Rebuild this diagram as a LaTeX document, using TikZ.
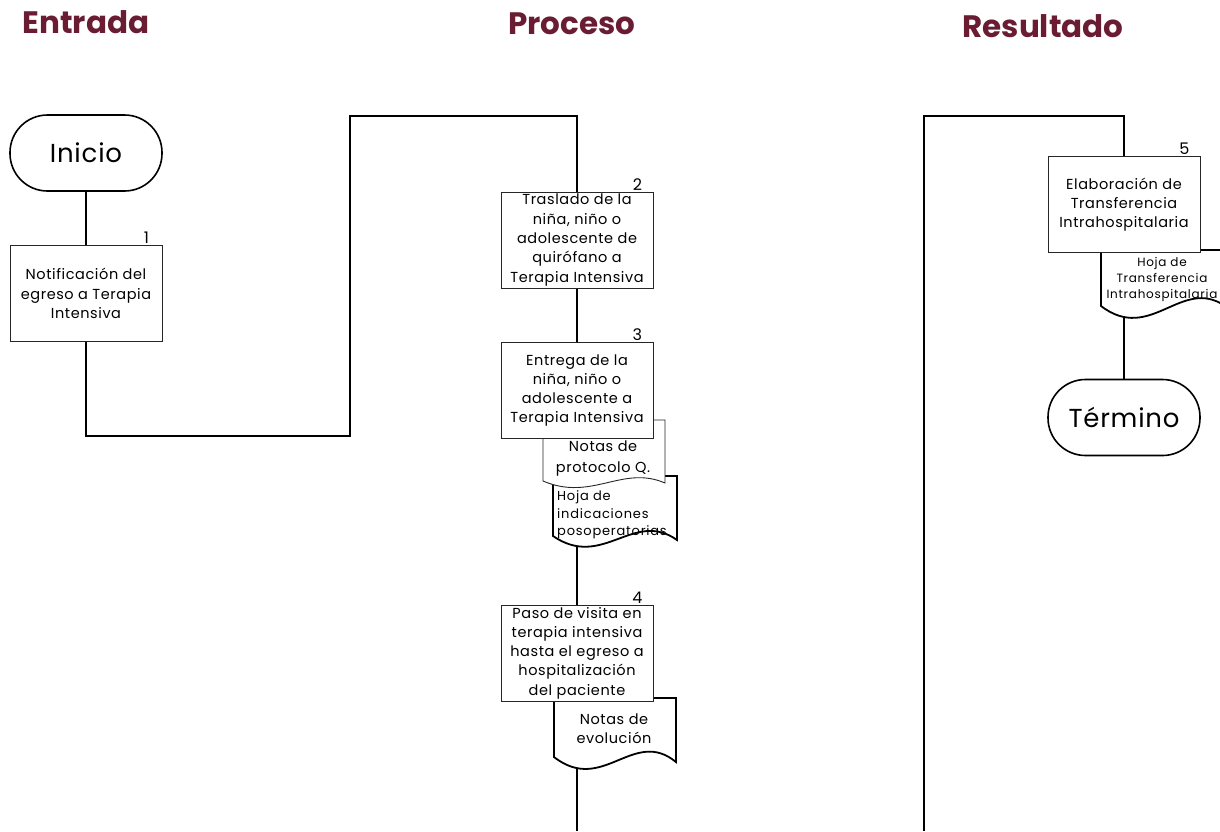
\documentclass[tikz,border=0pt]{standalone}
\usepackage{fontspec}
\setmainfont{Poppins}
\newfontfamily\spaced[LetterSpace=4]{Poppins}
\newfontfamily\wide[LetterSpace=6]{Poppins}
\newfontfamily\termfont[LetterSpace=3]{Poppins}
\usetikzlibrary{calc,backgrounds}
\definecolor{guinda}{RGB}{105,28,50}

% document symbol: #1 style, #2 left, #3 right, #4 top, #5 left foot, #6 right foot, #7 wave depth
\newcommand\docsymbol[7]{%
  \path[#1] (#2,#4) -- (#3,#4) -- (#3,#6)
    .. controls ({#2+0.65*(#3-#2)},{#5-30*#7}) and ({#2+0.4*(#3-#2)},{#5+38*#7}) .. (#2,#5) -- cycle;}

\tikzset{
  conn/.style={line width=1.8pt, draw=black},
  stepbox/.style={draw=black!85, line width=0.9pt, fill=white,
    minimum width=152pt, minimum height=96pt, inner sep=2pt, align=center,
    font=\spaced\fontsize{14.5}{19.3}\selectfont},
  term/.style={draw=black, line width=1.6pt, fill=white, rounded corners=37.5pt,
    minimum width=152pt, minimum height=76pt, inner sep=0pt,
    font=\termfont\fontsize{26}{30}\selectfont},
  num/.style={font=\fontsize{16}{16}\selectfont, anchor=base, inner sep=0pt},
  title/.style={font=\bfseries\fontsize{31}{32}\selectfont, text=guinda},
  thindoc/.style={draw=black!85, line width=0.9pt, fill=white},
  thickdoc/.style={draw=black, line width=1.8pt, fill=white},
  doctext/.style={align=center, inner sep=0pt, font=\spaced\fontsize{14.5}{21}\selectfont},
}

\begin{document}
\begin{tikzpicture}[x=1pt, y=-1pt]
  \clip (0,0) rectangle (1220,831);

  % column headings
  \node[title] (hin)  at (86,22)   {Entrada};
  \node[title] (hpro) at (572,24)  {Proceso};
  \node[title] (hres) at (1043,26) {Resultado};

  % attached documents
  \docsymbol{thickdoc}{553}{677}{476}{536}{540}{0.9}
  \node[doctext, align=left, anchor=west, font=\wide\fontsize{13}{17.5}\selectfont]
    (dindic) at (557,515) {Hoja de\\indicaciones\\posoperatorias};
  \docsymbol{thindoc}{543}{665}{420}{481}{483}{0.55}
  \node[doctext] (dprot) at (603,459) {Notas de\\protocolo Q.};
  \docsymbol{thickdoc}{554}{676}{698}{757}{762}{1}
  \node[doctext, font=\spaced\fontsize{14.5}{19}\selectfont] (devol) at (614,729) {Notas de\\evolución};
  \docsymbol{thickdoc}{1101}{1225}{250}{306}{306}{1}
  \node[doctext, font=\wide\fontsize{12}{16}\selectfont] (dtransf) at (1162,279)
    {Hoja de\\Transferencia\\Intrahospitalaria};

  % process steps
  \node[term] (inicio) at (86,153) {Inicio};
  \node[stepbox] (b1) at (86,293.5) {Notificación del\\egreso a Terapia\\Intensiva};
  \node[stepbox] (b2) at (577,240) {Traslado de la\\niña, niño o\\adolescente de\\quirófano a\\Terapia Intensiva};
  \node[stepbox] (b3) at (577,390.5) {Entrega de la\\niña, niño o\\adolescente a\\Terapia Intensiva};
  \node[stepbox] (b4) at (577,653) {Paso de visita en\\terapia intensiva\\hasta el egreso a\\hospitalización\\del paciente};
  \node[stepbox] (b5) at (1124,204.5) {Elaboración de\\Transferencia\\Intrahospitalaria};
  \node[term] (fin) at (1124,417.5) {Término};

  % step numbers
  \node[num] (n1) at ($(b1.north east)+(-16,-1.5)$) {1};
  \node[num] (n2) at ($(b2.north east)+(-16,-1.5)$) {2};
  \node[num] (n3) at ($(b3.north east)+(-16,-1.5)$) {3};
  \node[num] (n4) at ($(b4.north east)+(-16,-1.5)$) {4};
  \node[num] (n5) at ($(b5.north east)+(-16,-1.5)$) {5};

  % route points of the connectors
  \coordinate (k1) at (350,436);
  \coordinate (k2) at (350,116);
  \coordinate (kout) at (577,831);
  \coordinate (k3) at (924,831);
  \coordinate (k4) at (924,116);

  \begin{pgfonlayer}{background}
    \draw[conn] (inicio.south) -- (b1.north);
    \draw[conn] (b1.south) |- (k1) -- (k2) -| (b2.north);
    \draw[conn] (b2.south) -- (b3.north);
    \draw[conn] (b3.south) -- (b4.north);
    \draw[conn] (b4.south) -- (kout);
    \draw[conn] (k3) -- (k4) -| (b5.north);
    \draw[conn] (b5.south) -- (fin.north);
  \end{pgfonlayer}
\end{tikzpicture}
\end{document}
